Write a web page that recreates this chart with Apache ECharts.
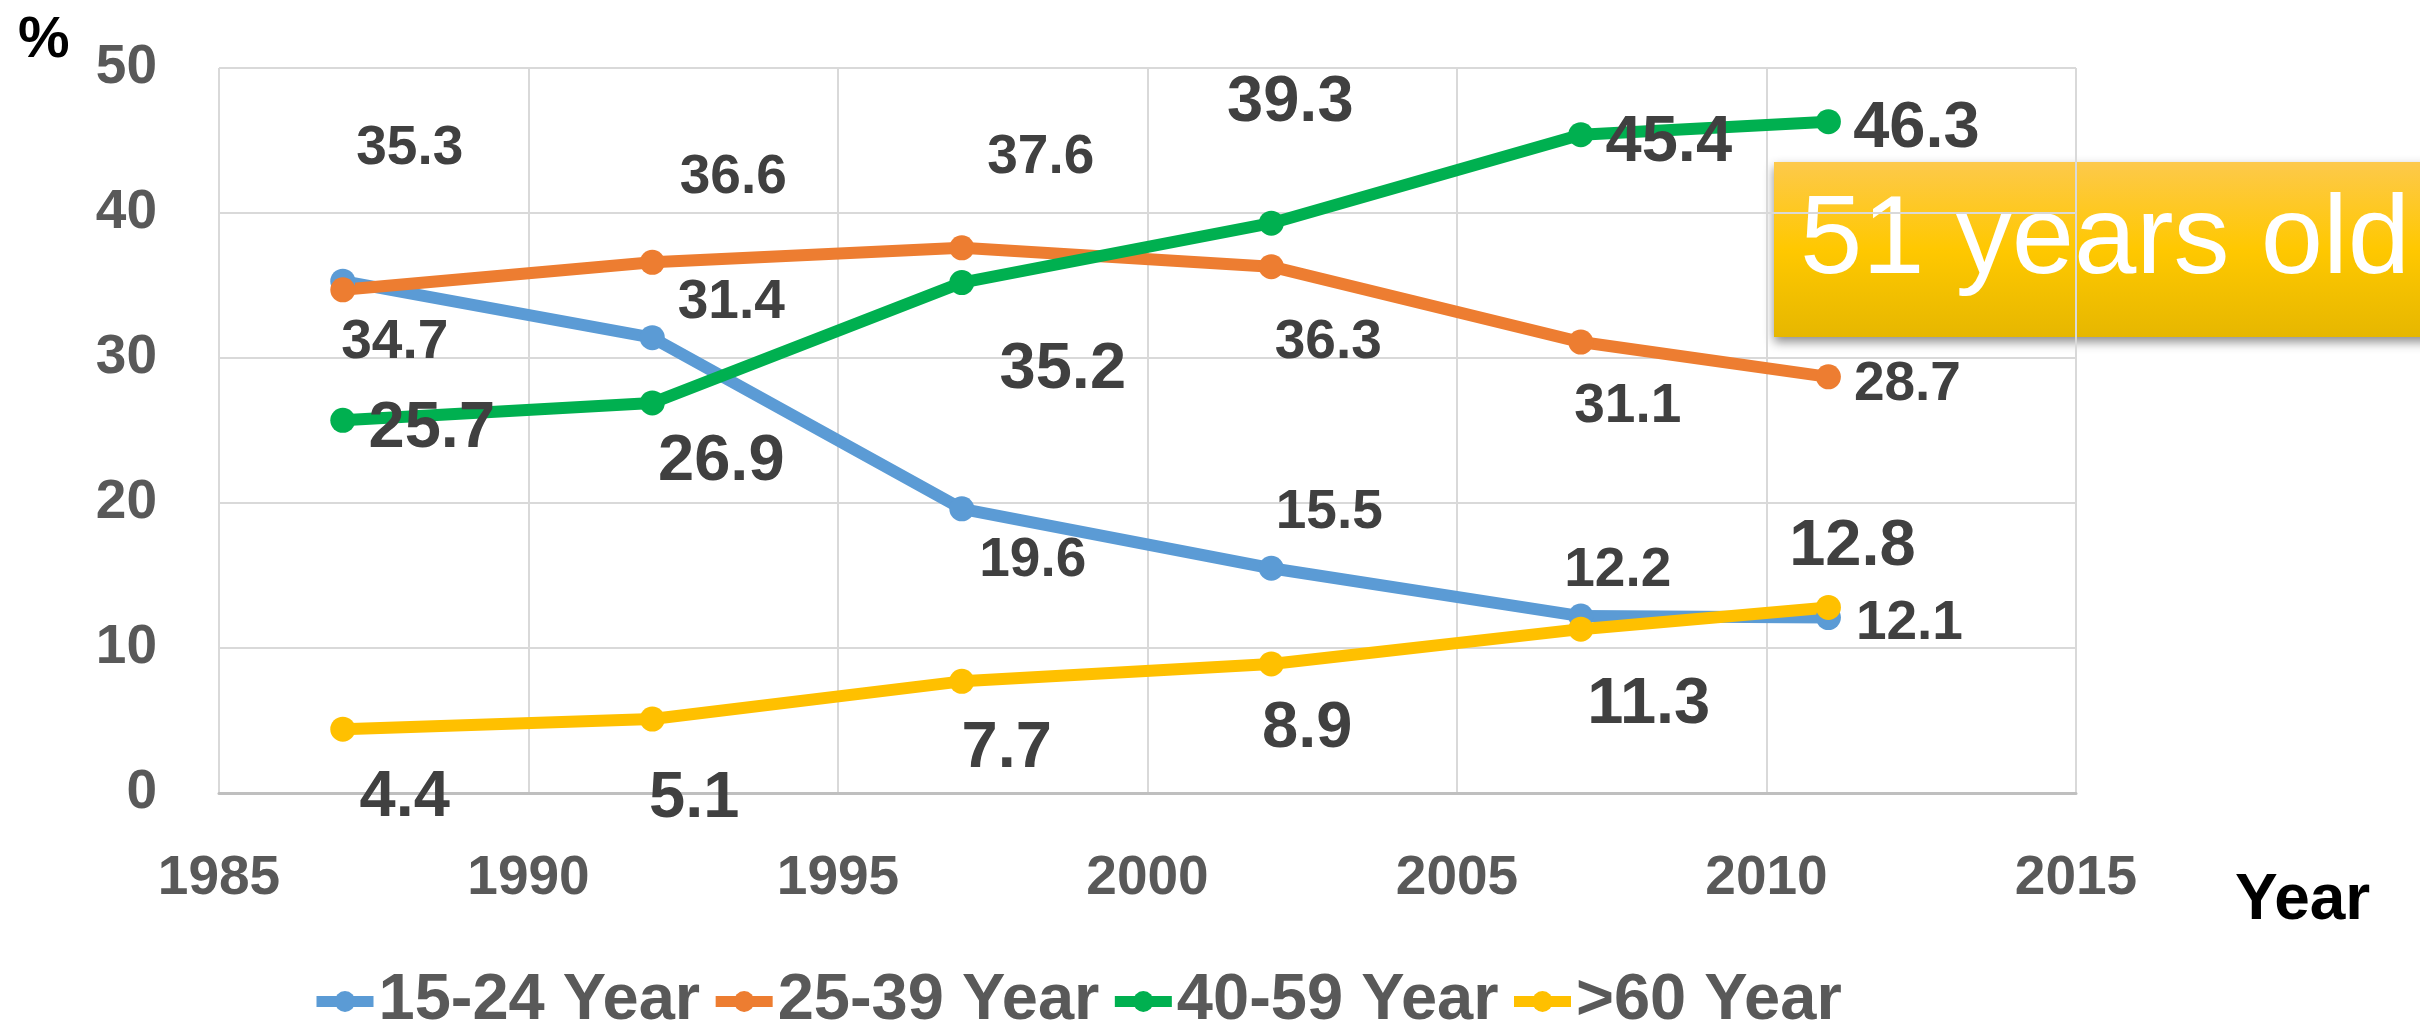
<!DOCTYPE html>
<html>
<head>
<meta charset="utf-8">
<script src="https://cdn.jsdelivr.net/npm/echarts@6/dist/echarts.min.js"></script>
<style>
  html, body { margin: 0; padding: 0; background: #fff; }
  #chart { width: 2420px; height: 1036px; }
</style>
</head>
<body>
<div id="chart"></div>
<script>
// survey years and share (%) per age group
const years = [1987, 1992, 1997, 2002, 2007, 2011];
const age15to24 = [35.3, 31.4, 19.6, 15.5, 12.2, 12.1];
const age25to39 = [34.7, 36.6, 37.6, 36.3, 31.1, 28.7];
const age40to59 = [25.7, 26.9, 35.2, 39.3, 45.4, 46.3];
const age60plus = [4.4, 5.1, 7.7, 8.9, 11.3, 12.8];
const seriesNames = ['15-24 Year', '25-39 Year', '40-59 Year', '>60 Year'];

// where each data label sits relative to its point (layout only)
const labelShift = [
  [[67, -132], [79, -35], [71, 52], [58, -55], [37, -45], [81, 6]],
  [[52, 53], [81, -84], [79, -90], [57, 76], [47, 65], [79, 8]],
  [[89, 9], [69, 59], [101, 87], [19, -120], [88, 8], [88, 7]],
  [[62, 69], [42, 80], [45, 68], [36, 65], [68, 76], [24, -60]]
];

const colors = ['#5B9BD5', '#ED7D31', '#00B050', '#FFC000'];
const labelSizes = [55, 55, 65, 65];
const font = 'Liberation Sans, Arial, sans-serif';

function makeSeries(name, values, idx) {
  return {
    name: name,
    type: 'line',
    data: years.map((y, i) => ({
      value: [y, values[i]],
      label: { offset: labelShift[idx][i] }
    })),
    symbol: 'circle',
    symbolSize: 25,
    lineStyle: { width: 12, color: colors[idx] },
    itemStyle: { color: colors[idx] },
    label: {
      show: true,
      position: 'inside',
      align: 'center',
      verticalAlign: 'middle',
      fontFamily: font,
      fontWeight: 'bold',
      fontSize: labelSizes[idx],
      color: '#404040',
      formatter: p => p.value[1].toFixed(1)
    },
    emphasis: { disabled: true }
  };
}

const chart = echarts.init(document.getElementById('chart'));
chart.setOption({
  animation: false,
  color: colors,
  grid: { left: 219, right: 344, top: 68, bottom: 243 },
  xAxis: {
    type: 'value',
    min: 1985,
    max: 2015,
    interval: 5,
    axisLine: { show: true, lineStyle: { color: '#BFBFBF', width: 3 } },
    axisTick: { show: false },
    splitLine: { show: true, lineStyle: { color: '#D9D9D9', width: 2 } },
    axisLabel: {
      margin: 58,
      formatter: v => String(v),
      fontFamily: font,
      fontWeight: 'bold',
      fontSize: 55,
      color: '#595959'
    }
  },
  yAxis: {
    type: 'value',
    min: 0,
    max: 50,
    interval: 10,
    axisLine: { show: false },
    axisTick: { show: false },
    splitLine: { show: true, lineStyle: { color: '#D9D9D9', width: 2 } },
    axisLabel: {
      margin: 62,
      fontFamily: font,
      fontWeight: 'bold',
      fontSize: 55,
      color: '#595959'
    }
  },
  legend: {
    left: 306,
    top: 964,
    itemWidth: 57,
    itemHeight: 26,
    itemGap: 10,
    data: seriesNames,
    lineStyle: { width: 11 },
    textStyle: {
      fontFamily: font,
      fontWeight: 'bold',
      fontSize: 65,
      color: '#595959'
    }
  },
  graphic: [
    {
      type: 'text',
      left: 18,
      top: 12,
      style: { text: '%', fontFamily: font, fontWeight: 'bold', fontSize: 58, fill: '#000' }
    },
    {
      type: 'text',
      left: 2235,
      top: 869,
      style: { text: 'Year', fontFamily: font, fontWeight: 'bold', fontSize: 64, fill: '#000' }
    },
    {
      type: 'group',
      left: 1774,
      top: 162,
      z: 100,
      children: [
        {
          type: 'rect',
          shape: { x: 0, y: 0, width: 700, height: 175 },
          style: {
            fill: new echarts.graphic.LinearGradient(0, 0, 0, 1, [
              { offset: 0, color: '#FDC94B' },
              { offset: 0.5, color: '#FFC800' },
              { offset: 1, color: '#E6B700' }
            ]),
            shadowBlur: 10,
            shadowOffsetY: 5,
            shadowColor: 'rgba(0,0,0,0.45)'
          }
        },
        {
          type: 'text',
          x: 26,
          y: 80,
          style: {
            text: '51 years old',
            fontFamily: font,
            fontSize: 112,
            fill: '#fff',
            verticalAlign: 'middle'
          }
        }
      ]
    }
  ],
  series: [
    makeSeries(seriesNames[0], age15to24, 0),
    makeSeries(seriesNames[1], age25to39, 1),
    makeSeries(seriesNames[2], age40to59, 2),
    makeSeries(seriesNames[3], age60plus, 3)
  ]
});
</script>
</body>
</html>
